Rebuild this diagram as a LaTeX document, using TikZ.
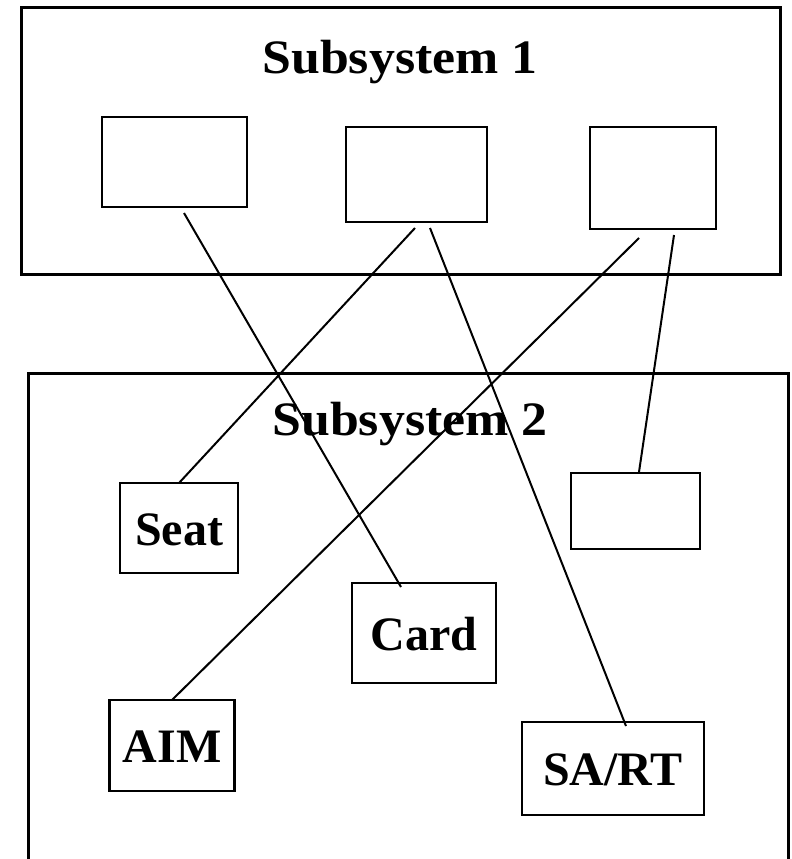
\documentclass[tikz,border=0pt]{standalone}
\usepackage{fontspec}
\setmainfont{Liberation Serif}
\newfontfamily\titlefont[FakeStretch=1.08]{Liberation Serif}
\begin{document}
\begin{tikzpicture}[x=1pt,y=-1pt,
  frame/.style={draw=black,line width=3pt},
  box/.style={draw=black,line width=2.6pt,inner sep=0pt,outer sep=0pt,
    font=\fontsize{48}{56}\selectfont\bfseries,text height=34pt,text depth=0pt},
  title/.style={inner sep=0pt,font=\titlefont\fontsize{48}{56}\selectfont\bfseries,text height=32pt,text depth=0pt},
  link/.style={draw=black,line width=2pt}]
\useasboundingbox (0,0) rectangle (792,859);
% Subsystem 1
\node[frame,inner sep=0pt,minimum width=759pt,minimum height=266pt] (s1) at (400.5,141) {};
\node[title] (t1) at (400,58) {Subsystem 1};
\node[box,minimum width=145pt,minimum height=90pt] (a) at (174.5,162) {};
\node[box,minimum width=141pt,minimum height=95pt] (b) at (416.5,174.5) {};
\node[box,minimum width=126pt,minimum height=102pt] (c) at (653,178) {};
% Subsystem 2
\draw[frame] (28,862) coordinate (s2bl) -- (28,373) coordinate (s2tl) -- (788,373) coordinate (s2tr) -- (788,862) coordinate (s2br);
\node[title] (t2) at (410,419) {Subsystem 2};
\node[box,minimum width=118pt,minimum height=90pt] (seat) at (179,528) {Seat};
\node[box,minimum width=144pt,minimum height=100pt] (card) at (424,633) {Card};
\node[box,minimum width=125pt,minimum height=91pt] (aim) at (172,745.5) {AIM};
\node[box,minimum width=182pt,minimum height=93pt] (sart) at (613,768.5) {SA/RT};
\node[box,minimum width=129pt,minimum height=76pt] (rbox) at (635.5,511) {};
% connector ends
\coordinate (a1) at (184,213);
\coordinate (b1) at (415,228);
\coordinate (b2) at (430,228);
\coordinate (c1) at (639,238);
\coordinate (c2) at (674,235);
\coordinate (cardend) at (401,587);
\coordinate (sartend) at (626,726);
\coordinate (rboxend) at (639,472);
\draw[link] (a1) -- (cardend);
\draw[link] (b1) -- (seat.north);
\draw[link] (b2) -- (sartend);
\draw[link] (c1) -- (aim.north);
\draw[link] (c2) -- (rboxend);
\end{tikzpicture}
\end{document}
